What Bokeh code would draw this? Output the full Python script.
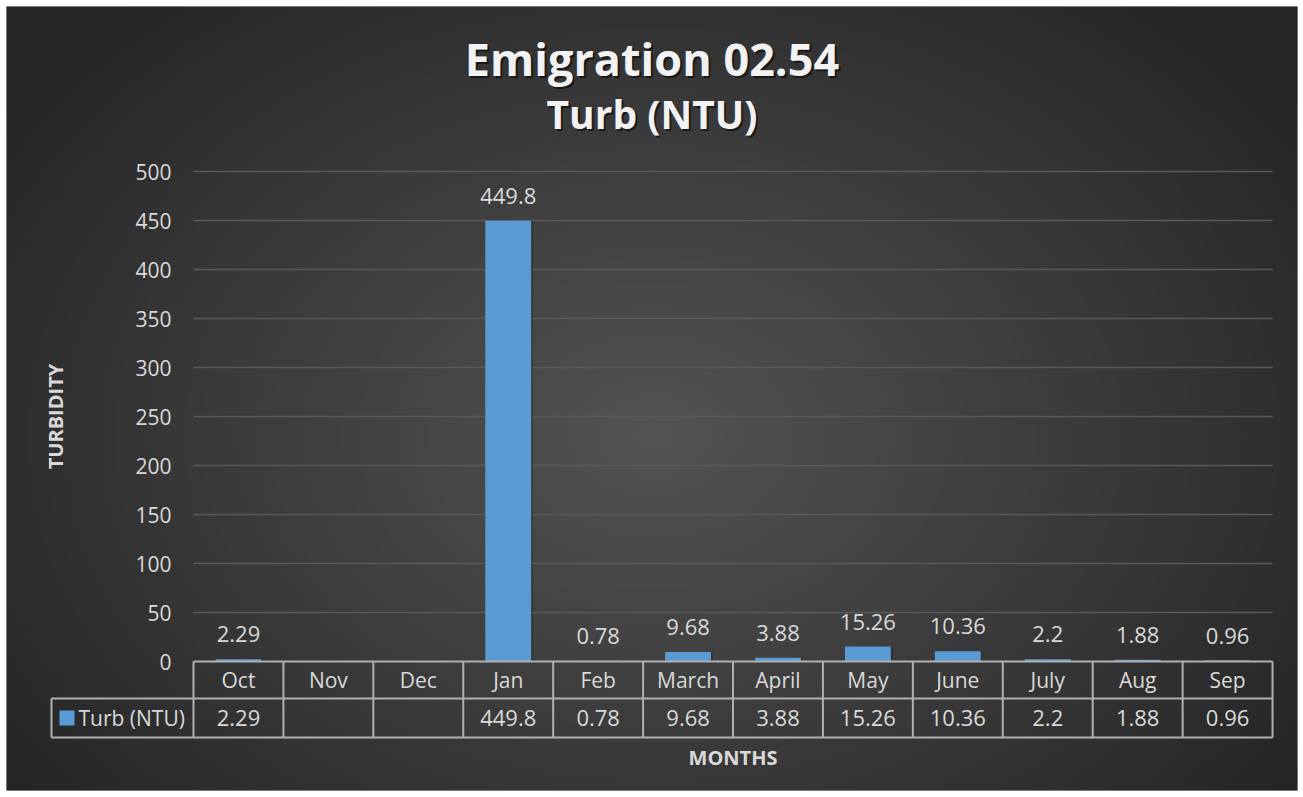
import numpy as np
from bokeh.plotting import figure
from bokeh.models import Range1d, ColumnDataSource
from bokeh.core.properties import value
from bokeh.embed import file_html
from bokeh.resources import INLINE

# ---- data ----
months = ["Oct", "Nov", "Dec", "Jan", "Feb", "March", "April", "May", "June", "July", "Aug", "Sep"]
turb = [2.29, None, None, 449.8, 0.78, 9.68, 3.88, 15.26, 10.36, 2.2, 1.88, 0.96]
turb_labels = ["2.29", "", "", "449.8", "0.78", "9.68", "3.88", "15.26", "10.36", "2.2", "1.88", "0.96"]
y_ticks = [0, 50, 100, 150, 200, 250, 300, 350, 400, 450, 500]
series_name = "Turb (NTU)"
title1 = "Emigration 02.54"
title2 = "Turb (NTU)"
x_title = "MONTHS"
y_title = "TURBIDITY"

# ---- layout ----
BL, BT, BR, BB = 6, 6, 6, 7
W, H = 1303 - BL - BR, 797 - BT - BB   # frame size
CAT_PX = 89.92          # px per category
VAL_PX = 0.98           # px per unit value
X0_PX = 193 - BL        # frame px of category 0 left edge
Y0_PX = 661 - BT        # frame px (from top) of value 0
x_lo = -X0_PX / CAT_PX
x_hi = (W - X0_PX) / CAT_PX
y_hi = Y0_PX / VAL_PX
y_lo = -(H - Y0_PX) / VAL_PX
PX = 1 / CAT_PX
PY = 1 / VAL_PX

FONT = "Open Sans"
TXT = "#d9d9d9"
GRID = "#595959"
TABLE = "#b0b0b0"
BAR = "#5b9bd5"

p = figure(width=1303, height=797, x_range=Range1d(x_lo, x_hi), y_range=Range1d(y_lo, y_hi),
           x_axis_type=None, y_axis_type=None, toolbar_location=None,
           output_backend="svg", min_border_left=BL, min_border_top=BT,
           min_border_right=BR, min_border_bottom=BB, outline_line_color=None)
p.grid.visible = False
p.background_fill_color = "#262626"
p.border_fill_color = "white"

# radial gradient background
ny, nx = 260, 430
yy, xx = np.mgrid[0:ny, 0:nx]
cx, cy = nx * 0.5, ny * 0.45
d = np.sqrt(((xx - cx) / (nx * 0.62)) ** 2 + ((yy - cy) / (ny * 0.75)) ** 2)
d = np.clip(d, 0, 1)
c_in, c_out = 0x53, 0x25
g = (c_in + (c_out - c_in) * d).astype(np.uint32)
img = (255 << 24) | (g << 16) | (g << 8) | g
p.image_rgba(image=[img.astype(np.uint32)], x=x_lo, y=y_lo, dw=x_hi - x_lo, dh=y_hi - y_lo)

ncat = len(months)
xc = [i + 0.5 for i in range(ncat)]

# gridlines
gl = [t for t in y_ticks if t > 0]
p.segment(x0=[0] * len(gl), x1=[ncat] * len(gl), y0=gl, y1=gl, line_color=GRID, line_width=1.5)

# y tick labels
p.text(x=[-22 * PX] * len(y_ticks), y=y_ticks, text=[str(t) for t in y_ticks],
       text_align="right", text_baseline="middle", text_font=value(FONT),
       text_font_size="21px", text_color=TXT)

# bars
bar_vals = [v if v is not None else 0 for v in turb]
src = ColumnDataSource(dict(x=xc, top=bar_vals, lab=turb_labels))
p.vbar(x=[v + 2 * PX for v in xc], top=bar_vals, width=0.51, bottom=0,
       fill_color="#111111", fill_alpha=0.25, line_color=None)
p.vbar(x="x", top="top", width=0.51, bottom=0, source=src,
       fill_color=BAR, line_color=None)
p.text(x="x", y="top", text="lab", source=src, y_offset=-25,
       text_align="center", text_baseline="alphabetic", text_font=value(FONT),
       text_font_size="22px", text_color=TXT)

# data table
r1 = -37.8
r2 = -77.6
p.segment(x0=[0, -142 * PX, -142 * PX], x1=[ncat, ncat, ncat], y0=[0, r1, r2], y1=[0, r1, r2],
          line_color=TABLE, line_width=2)
vx = list(range(ncat + 1))
p.segment(x0=vx, x1=vx, y0=[0] * len(vx), y1=[r2] * len(vx), line_color=TABLE, line_width=2)
p.segment(x0=[-142 * PX], x1=[-142 * PX], y0=[r1], y1=[r2], line_color=TABLE, line_width=2)

p.text(x=xc, y=[(0 + r1) / 2] * ncat, text=months, text_align="center", text_baseline="middle",
       text_font=value(FONT), text_font_size="21px", text_color=TXT)
p.text(x=xc, y=[(r1 + r2) / 2] * ncat, text=turb_labels, text_align="center",
       text_baseline="middle", text_font=value(FONT), text_font_size="22px", text_color=TXT)

# legend key in table
p.rect(x=[-126.5 * PX], y=[(r1 + r2) / 2], width=15 * PX, height=15 * PY, fill_color=BAR, line_color=None)
p.text(x=[-115 * PX], y=[(r1 + r2) / 2], text=[series_name], text_align="left",
       text_baseline="middle", text_font=value(FONT), text_font_size="21px", text_color=TXT)

# axis titles
p.text(x=[ncat / 2], y=[r2 - 20 * PY], text=[x_title], text_align="center", text_baseline="middle",
       text_font=value(FONT), text_font_size="20px", text_font_style="bold", text_color=TXT)
p.text(x=[-138 * PX], y=[250], text=[y_title], angle=np.pi / 2, text_align="center",
       text_baseline="middle", text_font=value(FONT), text_font_size="20px",
       text_font_style="bold", text_color=TXT)

# titles
xm = (x_lo + x_hi) / 2
for dx, dy, col, a in [(2, -2, "#000000", 0.55), (0, 0, "#f2f2f2", 1.0)]:
    p.text(x=[xm], y=[603 * PY], text=[title1], x_offset=dx, y_offset=-dy, text_align="center",
           text_baseline="middle", text_font=value(FONT), text_font_size="45px",
           text_font_style="bold", text_color=col, text_alpha=a)
    p.text(x=[xm], y=[548 * PY], text=[title2], x_offset=dx, y_offset=-dy, text_align="center",
           text_baseline="middle", text_font=value(FONT), text_font_size="39px",
           text_font_style="bold", text_color=col, text_alpha=a)

open("out.html", "w").write(file_html(p, INLINE))
